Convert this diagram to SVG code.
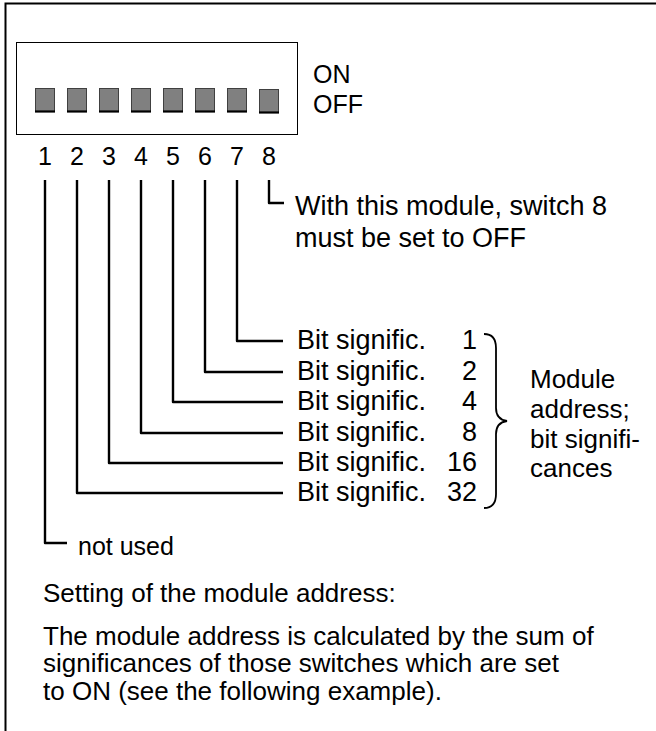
<svg xmlns="http://www.w3.org/2000/svg" width="656" height="731" viewBox="0 0 656 731">
<style>
text{font-family:"Liberation Sans",Arial,sans-serif;font-size:25px;fill:#000}
.big{font-size:27px}
.mid{font-size:26px}
.ln{fill:none;stroke:#000;stroke-width:2.4;stroke-linejoin:round}
.sw{fill:#808080;stroke:#404040;stroke-width:1}
.swb{stroke:#000;stroke-width:2.2}
.num{text-anchor:end}
</style>
<rect width="656" height="731" fill="#fff"/>
<g id="frame">
<path d="M5.5,731 V3.5 H656" fill="none" stroke="#000" stroke-width="2"/>
</g>
<g id="dip-switch">
<rect x="16.5" y="42.5" width="281" height="92" fill="none" stroke="#000" stroke-width="1"/>
<g id="switches">
<rect class="sw" x="35.5" y="88.5" width="19" height="23"/><line class="swb" x1="35" y1="111.5" x2="55" y2="111.5"/>
<rect class="sw" x="67.5" y="88.5" width="19" height="23"/><line class="swb" x1="67" y1="111.5" x2="87" y2="111.5"/>
<rect class="sw" x="99.5" y="88.5" width="19" height="23"/><line class="swb" x1="99" y1="111.5" x2="119" y2="111.5"/>
<rect class="sw" x="131.5" y="88.5" width="19" height="23"/><line class="swb" x1="131" y1="111.5" x2="151" y2="111.5"/>
<rect class="sw" x="163.5" y="88.5" width="19" height="23"/><line class="swb" x1="163" y1="111.5" x2="183" y2="111.5"/>
<rect class="sw" x="195.5" y="88.5" width="19" height="23"/><line class="swb" x1="195" y1="111.5" x2="215" y2="111.5"/>
<rect class="sw" x="227.5" y="88.5" width="19" height="23"/><line class="swb" x1="227" y1="111.5" x2="247" y2="111.5"/>
<rect class="sw" x="259.5" y="89.5" width="19" height="23"/><line class="swb" x1="259" y1="112.5" x2="279" y2="112.5"/>
</g>
<text x="313" y="83">ON</text>
<text x="313" y="113">OFF</text>
<g id="numbers" text-anchor="middle">
<text x="45" y="165">1</text>
<text x="77" y="165">2</text>
<text x="109" y="165">3</text>
<text x="141" y="165">4</text>
<text x="173" y="165">5</text>
<text x="205" y="165">6</text>
<text x="237" y="165">7</text>
<text x="269" y="165">8</text>
</g>
</g>
<g id="connectors">
<path class="ln" d="M45,180 V543 H67"/>
<path class="ln" d="M77,180 V493 H283"/>
<path class="ln" d="M109,180 V463 H283"/>
<path class="ln" d="M141,180 V433 H283"/>
<path class="ln" d="M173,180 V402 H283"/>
<path class="ln" d="M205,180 V372 H283"/>
<path class="ln" d="M237,180 V341 H283"/>
<path class="ln" d="M269,180 V203 H284"/>
</g>
<g id="note-switch8">
<text class="big" x="295" y="215">With this module, switch 8</text>
<text class="big" x="295" y="247">must be set to OFF</text>
</g>
<g id="bits">
<text class="big" x="297" y="349">Bit signific.</text><text class="big num" x="477" y="349">1</text>
<text class="big" x="297" y="380">Bit signific.</text><text class="big num" x="477" y="380">2</text>
<text class="big" x="297" y="410">Bit signific.</text><text class="big num" x="477" y="410">4</text>
<text class="big" x="297" y="441">Bit signific.</text><text class="big num" x="477" y="441">8</text>
<text class="big" x="297" y="471">Bit signific.</text><text class="big num" x="477" y="471">16</text>
<text class="big" x="297" y="501">Bit signific.</text><text class="big num" x="477" y="501">32</text>
</g>
<g id="brace">
<path d="M484,334 C492,334 496,338 496,348 V408 C496,416 500,420 507,421 C500,422 496,426 496,434 V494 C496,504 492,508 484,508" fill="none" stroke="#000" stroke-width="1.8"/>
<text class="mid" x="530" y="388">Module</text>
<text class="mid" x="530" y="418">address;</text>
<text class="mid" x="530" y="448">bit signifi-</text>
<text class="mid" x="530" y="477">cances</text>
</g>
<g id="not-used">
<text x="78" y="555">not used</text>
</g>
<g id="description" class="mid">
<text class="mid" x="43" y="602">Setting of the module address:</text>
<text class="mid" x="43" y="645">The module address is calculated by the sum of</text>
<text class="mid" x="43" y="672">significances of those switches which are set</text>
<text class="mid" x="43" y="700">to ON (see the following example).</text>
</g>
</svg>
